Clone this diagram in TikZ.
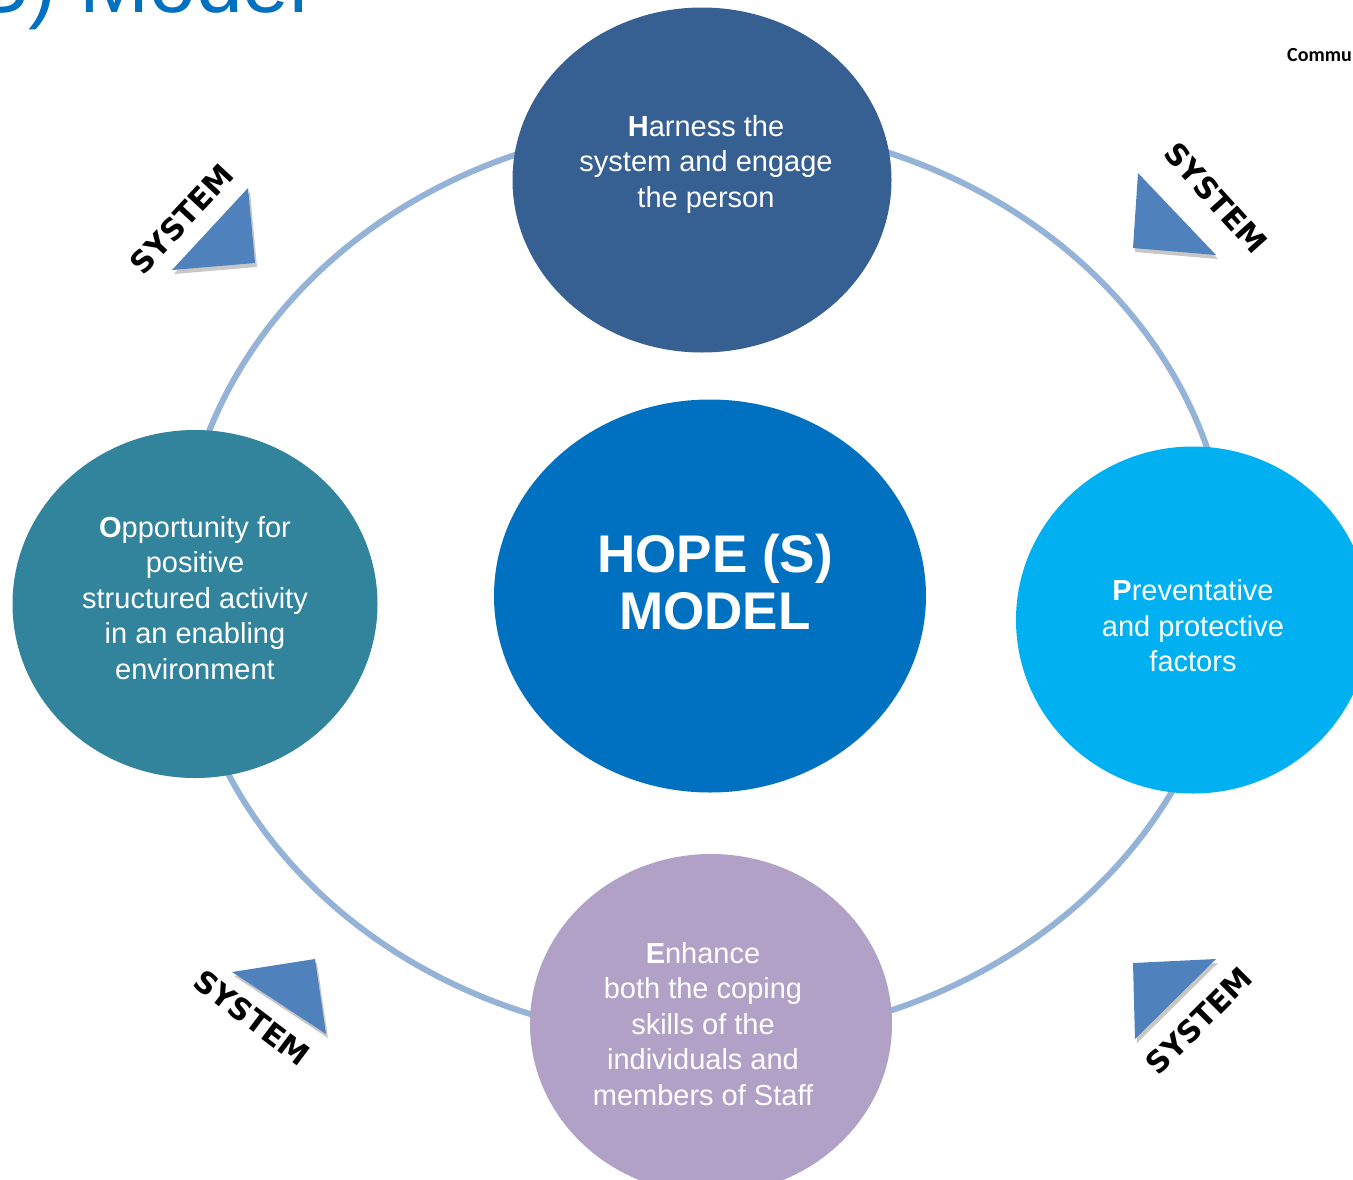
\documentclass[tikz,border=0pt]{standalone}
\usepackage{fontspec}
\setmainfont{Liberation Sans}
\newfontfamily\notefont{Carlito}
\newfontfamily\sysfont{DejaVu Sans}
\usetikzlibrary{shapes.geometric,shadows}
\definecolor{ring}{HTML}{95B3D7}
\definecolor{harness}{HTML}{376092}
\definecolor{hope}{HTML}{0070C0}
\definecolor{opport}{HTML}{31849B}
\definecolor{prevent}{HTML}{00B0F0}
\definecolor{enhance}{HTML}{B2A1C7}
\definecolor{sysblue}{HTML}{4F81BD}
\definecolor{title}{HTML}{0070C0}
\tikzset{
  blob/.style={ellipse, draw=none, inner sep=0pt},
  blobtxt/.style={text=white, align=center, inner sep=0pt,
    font=\fontsize{29}{35.5}\selectfont},
  hopetxt/.style={text=white, align=center, inner sep=0pt,
    font=\fontsize{53}{57}\selectfont\bfseries},
  ringline/.style={draw=ring, line width=6pt},
  sysarrow/.style={fill=sysblue, draw=none,
    drop shadow={shadow xshift=2pt, shadow yshift=-4pt, opacity=0.22, fill=black}},
  syslbl/.style={font=\sysfont\fontsize{30}{30}\selectfont\bfseries, text=black, inner sep=0pt},
}

\begin{document}
\begin{tikzpicture}[x=1pt, y=-1pt]
  \useasboundingbox (0,0) rectangle (1353,1179);
  \clip (0,0) rectangle (1353,1179);
  % ---------------- heading ----------------
  \node[anchor=base west, inner sep=0pt, text=title, font=\fontsize{84}{84}\selectfont]
    (heading) at (-28,12) {S) Model};
  \node[anchor=base west, inner sep=0pt, font=\notefont\fontsize{20}{20}\selectfont\bfseries]
    (note) at (1287,61) {Commu};

  % ---------------- the ring ----------------
  \draw[ringline] (705,582) ellipse [x radius=525, y radius=458];

  % ---------------- the five circles ----------------
  \node[blob, fill=harness, minimum width=379pt, minimum height=345pt] (harness) at (702,180) {};
  \node[blob, fill=hope, minimum width=432pt, minimum height=393pt] (hope) at (710,596) {};
  \node[blob, fill=opport, minimum width=365pt, minimum height=348pt] (opport) at (195,604) {};
  \node[blob, fill=prevent, minimum width=354pt, minimum height=347pt] (prevent) at (1193,620) {};
  \node[blob, fill=enhance, minimum width=362pt, minimum height=340pt] (enhance) at (711,1024) {};

  \node[blobtxt] (harnesstxt) at (706,164) {\textbf{H}arness the\\system and engage\\the person};
  \node[hopetxt] (hopetxt) at (715,582) {HOPE (S)\\MODEL};
  \node[blobtxt] (opporttxt) at (195,598) {\textbf{O}pportunity for\\positive\\structured activity\\in an enabling\\environment};
  \node[blobtxt] (preventtxt) at (1193,626) {\textbf{P}reventative\\and protective\\factors};
  \node[blobtxt] (enhancetxt) at (703,1024) {\textbf{E}nhance\\both the coping\\skills of the\\individuals and\\members of Staff};

  % ---------------- system markers ----------------
  \fill[sysarrow] (172,270) -- (248,188) -- (255,263) -- cycle;
  \fill[sysarrow] (1138,173) -- (1133,248) -- (1216,255) -- cycle;
  \fill[sysarrow] (232,972) -- (315,959) -- (326,1034) -- cycle;
  \fill[sysarrow] (1133,963) -- (1216,959) -- (1135,1039) -- cycle;

  \node[syslbl, rotate=47] (systl) at (182,219) {SYSTEM};
  \node[syslbl, rotate=-48] (systr) at (1216,198) {SYSTEM};
  \node[syslbl, rotate=-37] (sysbl) at (252,1018) {SYSTEM};
  \node[syslbl, rotate=45] (sysbr) at (1199,1021) {SYSTEM};
\end{tikzpicture}
\end{document}
